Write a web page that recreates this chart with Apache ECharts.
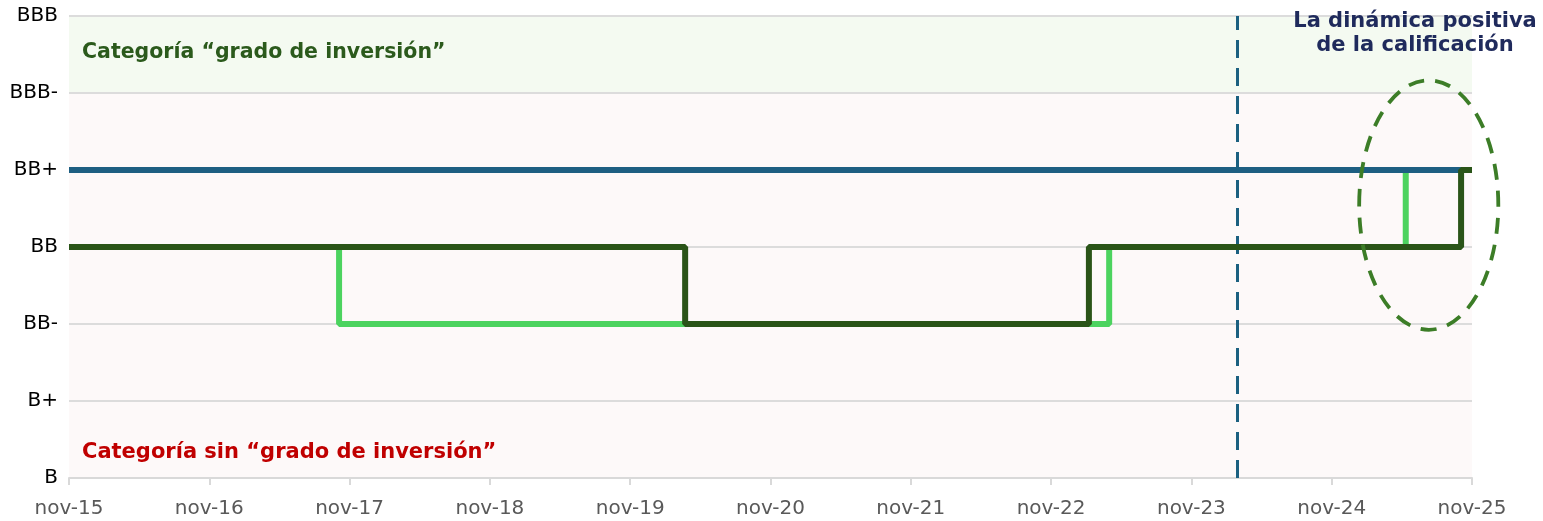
<!DOCTYPE html>
<html>
<head>
<meta charset="utf-8">
<script src="https://cdn.jsdelivr.net/npm/echarts@6/dist/echarts.min.js"></script>
<style>
  html, body { margin: 0; padding: 0; background: #fff; }
  #chart { width: 1543px; height: 521px; }
</style>
</head>
<body>
<div id="chart"></div>
<script>
// escala de calificaciones (de abajo hacia arriba)
var ratings = ['B', 'B+', 'BB-', 'BB', 'BB+', 'BBB-', 'BBB'];
var xTicks = ['nov-15', 'nov-16', 'nov-17', 'nov-18', 'nov-19', 'nov-20', 'nov-21', 'nov-22', 'nov-23', 'nov-24', 'nov-25'];

// fechas de cambio de calificacion
var blueDates = ['2015-11-01', '2025-11-01'];
var blueRatings = ['BB+', 'BB+'];
var lightDates = ['2015-11-01', '2017-10-04', '2023-03-30', '2025-05-11', '2025-11-01'];
var lightRatings = ['BB', 'BB-', 'BB', 'BB+', 'BB+'];
var darkDates = ['2015-11-01', '2020-03-22', '2023-02-08', '2025-10-03', '2025-11-01'];
var darkRatings = ['BB', 'BB-', 'BB', 'BB+', 'BB+'];
var cutDate = '2024-02-28';

// meses desde nov-15
function toMonth(s) {
  var p = s.split('-');
  return (+p[0] - 2015) * 12 + (+p[1] - 11) + (+p[2] - 1) / 30;
}
function pairs(dates, rs) {
  return dates.map(function (d, i) { return [toMonth(d), ratings.indexOf(rs[i])]; });
}

var chart = echarts.init(document.getElementById('chart'));
var option = {
  animation: false,
  grid: { left: 69, right: 71, top: 16, bottom: 43 },
  xAxis: {
    type: 'value',
    min: 0,
    max: 120,
    interval: 12,
    z: 2,
    axisLine: { show: true, lineStyle: { color: '#d9d9d9', width: 2 } },
    axisTick: { show: true, length: 7, lineStyle: { color: '#d9d9d9', width: 2 } },
    splitLine: { show: false },
    axisLabel: {
      margin: 21,
      color: '#595959',
      fontFamily: 'DejaVu Sans',
      fontSize: 20,
      formatter: function (v) { return xTicks[Math.round(v / 12)]; }
    }
  },
  yAxis: {
    type: 'value',
    min: 0,
    max: 6,
    interval: 1,
    z: 2,
    axisLine: { show: false },
    axisTick: { show: false },
    splitLine: { show: true, lineStyle: { color: '#dcdcdc', width: 2 } },
    axisLabel: {
      margin: 11,
      color: '#000',
      fontFamily: 'DejaVu Sans',
      fontSize: 20,
      formatter: function (v) { return ratings[v]; }
    }
  },
  series: [
    {
      // fondos de categoria
      type: 'line',
      data: [],
      markArea: {
        silent: true,
        data: [
          [{ yAxis: 5, itemStyle: { color: '#f4faf1' } }, { yAxis: 6 }],
          [{ yAxis: 0, itemStyle: { color: '#fdf9f9' } }, { yAxis: 5 }]
        ]
      }
    },
    {
      type: 'line',
      step: 'end',
      showSymbol: false,
      z: 3,
      lineStyle: { color: '#4cd35f', width: 6 },
      data: pairs(lightDates, lightRatings)
    },
    {
      type: 'line',
      showSymbol: false,
      z: 4,
      lineStyle: { color: '#1d5f82', width: 6 },
      data: pairs(blueDates, blueRatings)
    },
    {
      type: 'line',
      step: 'end',
      showSymbol: false,
      z: 5,
      lineStyle: { color: '#2a5418', width: 6 },
      data: pairs(darkDates, darkRatings)
    },
    {
      type: 'line',
      data: [],
      z: 6,
      markLine: {
        silent: true,
        symbol: 'none',
        label: { show: false },
        lineStyle: { color: '#1b6080', width: 3, type: [18, 10] },
        data: [{ xAxis: toMonth(cutDate) }]
      }
    }
  ],
  graphic: [
    {
      id: 'txtInv', type: 'text', x: 82, y: 53, z: 20,
      style: { text: 'Categoría “grado de inversión”', fill: '#2b5a1c', font: 'bold 20.5px "DejaVu Sans"', align: 'left', verticalAlign: 'middle' }
    },
    {
      id: 'txtSin', type: 'text', x: 82, y: 453, z: 20,
      style: { text: 'Categoría sin “grado de inversión”', fill: '#c00000', font: 'bold 21px "DejaVu Sans"', align: 'left', verticalAlign: 'middle' }
    },
    {
      id: 'txtDin1', type: 'text', x: 1415, y: 22, z: 20,
      style: { text: 'La dinámica positiva', fill: '#1f2a5c', font: 'bold 21px "DejaVu Sans"', align: 'center', verticalAlign: 'middle' }
    },
    {
      id: 'txtDin2', type: 'text', x: 1415, y: 46, z: 20,
      style: { text: 'de la calificación', fill: '#1f2a5c', font: 'bold 21px "DejaVu Sans"', align: 'center', verticalAlign: 'middle' }
    }
  ]
};
chart.setOption(option);

// elipse de la dinamica positiva, ubicada en coordenadas de datos
var ellCenter = chart.convertToPixel({ gridIndex: 0 }, [toMonth('2025-07-10'), 3.545]);
var ellEdge = chart.convertToPixel({ gridIndex: 0 }, [toMonth('2025-07-10') + 5.95, 3.545 + 1.62]);
chart.setOption({
  graphic: [
    {
      id: 'ellipse',
      type: 'ellipse',
      z: 20,
      shape: { cx: ellCenter[0], cy: ellCenter[1], rx: ellEdge[0] - ellCenter[0], ry: ellCenter[1] - ellEdge[1] },
      style: { fill: 'none', stroke: '#3c7d27', lineWidth: 3.8, lineDash: [16, 11] }
    }
  ]
});
</script>
</body>
</html>
